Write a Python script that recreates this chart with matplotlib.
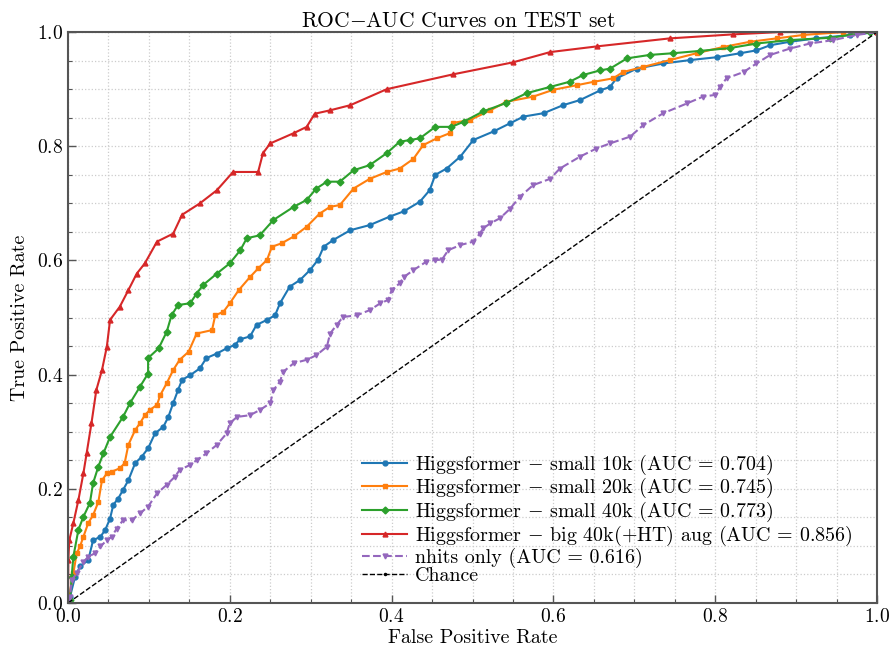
import matplotlib
matplotlib.use("Agg")
import matplotlib.pyplot as plt

plt.rcParams.update({
    "font.family": "serif",
    "font.serif": ["cmr10", "DejaVu Serif"],
    "mathtext.fontset": "cm",
    "axes.formatter.use_mathtext": True,
    "axes.unicode_minus": False,
})

# ---- data ----
fpr_10k = [0, 0.0025, 0.0087, 0.0148, 0.025, 0.031, 0.040, 0.046, 0.052, 0.056, 0.062, 0.068, 0.0746, 0.083,
           0.091, 0.099, 0.1075, 0.118, 0.124, 0.130, 0.136, 0.141, 0.151, 0.163, 0.171, 0.184, 0.196, 0.206,
           0.213, 0.225, 0.233, 0.246, 0.256, 0.262, 0.274, 0.287, 0.299, 0.309, 0.316, 0.328, 0.349, 0.373,
           0.398, 0.415, 0.435, 0.447, 0.454, 0.468, 0.485, 0.501, 0.526, 0.546, 0.563, 0.588, 0.612, 0.633,
           0.658, 0.670, 0.678, 0.703, 0.736, 0.769, 0.802, 0.831, 0.851, 0.868, 0.892, 0.925, 0.967, 1.0]
tpr_10k = [0, 0.011, 0.046, 0.064, 0.075, 0.110, 0.116, 0.128, 0.148, 0.172, 0.183, 0.198, 0.215, 0.245,
           0.256, 0.271, 0.297, 0.309, 0.326, 0.350, 0.373, 0.391, 0.399, 0.411, 0.429, 0.437, 0.446, 0.452,
           0.462, 0.467, 0.487, 0.496, 0.504, 0.525, 0.554, 0.566, 0.583, 0.601, 0.624, 0.636, 0.653, 0.662,
           0.677, 0.686, 0.703, 0.723, 0.750, 0.761, 0.782, 0.811, 0.826, 0.840, 0.852, 0.858, 0.872, 0.881,
           0.898, 0.904, 0.919, 0.936, 0.945, 0.951, 0.956, 0.963, 0.968, 0.977, 0.983, 0.989, 0.995, 1.0]

fpr_20k = [0, 0.0066, 0.0107, 0.0148, 0.019, 0.025, 0.031, 0.0375, 0.042, 0.048, 0.054, 0.064, 0.070, 0.0746,
           0.083, 0.089, 0.095, 0.101, 0.110, 0.114, 0.122, 0.130, 0.138, 0.149, 0.159, 0.178, 0.182, 0.192,
           0.200, 0.211, 0.225, 0.235, 0.246, 0.252, 0.264, 0.279, 0.295, 0.311, 0.324, 0.336, 0.353, 0.373,
           0.394, 0.410, 0.427, 0.439, 0.456, 0.472, 0.476, 0.497, 0.522, 0.542, 0.575, 0.600, 0.629, 0.650,
           0.674, 0.686, 0.711, 0.744, 0.777, 0.810, 0.843, 0.876, 0.909, 0.958, 1.0]
tpr_20k = [0, 0.052, 0.087, 0.099, 0.116, 0.140, 0.154, 0.177, 0.215, 0.227, 0.230, 0.236, 0.245, 0.277,
           0.303, 0.315, 0.329, 0.338, 0.347, 0.364, 0.385, 0.408, 0.426, 0.440, 0.472, 0.478, 0.504, 0.510,
           0.525, 0.548, 0.571, 0.586, 0.601, 0.624, 0.630, 0.642, 0.659, 0.682, 0.694, 0.697, 0.726, 0.743,
           0.755, 0.761, 0.778, 0.802, 0.814, 0.823, 0.841, 0.846, 0.863, 0.878, 0.887, 0.899, 0.907, 0.913,
           0.919, 0.930, 0.939, 0.951, 0.963, 0.974, 0.983, 0.989, 0.995, 1.0, 1.0]

fpr_40k = [0, 0.0025, 0.0045, 0.0066, 0.0128, 0.019, 0.027, 0.031, 0.0375, 0.0437, 0.052, 0.068, 0.0766,
           0.089, 0.099, 0.099, 0.112, 0.122, 0.128, 0.136, 0.151, 0.159, 0.167, 0.184, 0.200, 0.213, 0.221,
           0.237, 0.254, 0.279, 0.295, 0.307, 0.320, 0.336, 0.353, 0.373, 0.394, 0.410, 0.423, 0.435, 0.454,
           0.474, 0.489, 0.513, 0.542, 0.567, 0.596, 0.620, 0.637, 0.658, 0.670, 0.691, 0.719, 0.748, 0.781,
           0.818, 0.851, 0.892, 0.942, 0.991, 1.0]
tpr_40k = [0, 0.005, 0.046, 0.081, 0.128, 0.151, 0.175, 0.210, 0.239, 0.262, 0.291, 0.326, 0.350,
           0.379, 0.402, 0.429, 0.446, 0.475, 0.504, 0.522, 0.525, 0.542, 0.557, 0.577, 0.595, 0.618, 0.639,
           0.644, 0.671, 0.694, 0.706, 0.726, 0.738, 0.738, 0.758, 0.767, 0.788, 0.808, 0.811, 0.814, 0.834,
           0.834, 0.843, 0.861, 0.876, 0.893, 0.904, 0.913, 0.925, 0.933, 0.936, 0.954, 0.960, 0.963, 0.967,
           0.972, 0.980, 0.986, 0.990, 1.0, 1.0]

fpr_big = [0, 0.0004, 0.0016, 0.0066, 0.0128, 0.019, 0.023, 0.029, 0.035, 0.042, 0.048, 0.052, 0.064,
           0.0746, 0.085, 0.095, 0.110, 0.130, 0.141, 0.163, 0.184, 0.204, 0.235, 0.241, 0.250, 0.279, 0.295,
           0.305, 0.324, 0.349, 0.394, 0.476, 0.550, 0.596, 0.654, 0.744, 0.822, 0.880, 1.0]
tpr_big = [0, 0.075, 0.110, 0.140, 0.180, 0.227, 0.262, 0.315, 0.373, 0.408, 0.449, 0.496, 0.519,
           0.548, 0.577, 0.595, 0.633, 0.647, 0.680, 0.700, 0.723, 0.755, 0.755, 0.788, 0.805, 0.823, 0.834,
           0.857, 0.863, 0.872, 0.900, 0.926, 0.947, 0.965, 0.975, 0.989, 0.996, 1.0, 1.0]

fpr_nhits = [0, 0.0025, 0.0045, 0.0107, 0.019, 0.025, 0.033, 0.040, 0.048, 0.054, 0.060, 0.068, 0.0787,
             0.089, 0.099, 0.110, 0.122, 0.132, 0.138, 0.151, 0.159, 0.171, 0.184, 0.196, 0.200, 0.209, 0.225,
             0.237, 0.250, 0.254, 0.262, 0.266, 0.279, 0.295, 0.307, 0.320, 0.324, 0.332, 0.340, 0.357, 0.373,
             0.386, 0.396, 0.400, 0.410, 0.415, 0.427, 0.443, 0.454, 0.462, 0.470, 0.485, 0.501, 0.509, 0.513,
             0.522, 0.534, 0.546, 0.559, 0.575, 0.596, 0.608, 0.633, 0.653, 0.670, 0.695, 0.711, 0.736, 0.765,
             0.785, 0.800, 0.806, 0.814, 0.835, 0.851, 0.868, 0.892, 0.917, 0.946, 0.975, 1.0]
tpr_nhits = [0, 0.011, 0.040, 0.052, 0.072, 0.081, 0.087, 0.099, 0.110, 0.116, 0.130, 0.145, 0.145,
             0.157, 0.169, 0.192, 0.207, 0.221, 0.233, 0.242, 0.250, 0.262, 0.277, 0.297, 0.315, 0.326, 0.329,
             0.338, 0.350, 0.373, 0.388, 0.405, 0.420, 0.426, 0.434, 0.449, 0.472, 0.487, 0.501, 0.504, 0.513,
             0.525, 0.531, 0.548, 0.560, 0.571, 0.583, 0.598, 0.601, 0.601, 0.618, 0.627, 0.633, 0.647, 0.656,
             0.665, 0.674, 0.690, 0.712, 0.732, 0.743, 0.761, 0.782, 0.796, 0.805, 0.817, 0.837, 0.858, 0.875,
             0.887, 0.890, 0.904, 0.919, 0.930, 0.945, 0.960, 0.971, 0.980, 0.986, 0.995, 1.0]

chance = [0, 1]

labels = [
    r"Higgsformer $-$ small 10k (AUC = 0.704)",
    r"Higgsformer $-$ small 20k (AUC = 0.745)",
    r"Higgsformer $-$ small 40k (AUC = 0.773)",
    r"Higgsformer $-$ big 40k(+HT) aug (AUC = 0.856)",
    r"nhits only (AUC = 0.616)",
    "Chance",
]

fig = plt.figure(figsize=(8.89, 6.51), dpi=100)
ax = fig.add_axes([0.0765, 0.0737, 0.91, 0.877])

ax.plot(fpr_10k, tpr_10k, "-", marker="o", ms=3.5, lw=1.5, color="#1f77b4", label=labels[0])
ax.plot(fpr_20k, tpr_20k, "-", marker="s", ms=3.5, lw=1.5, color="#ff7f0e", label=labels[1])
ax.plot(fpr_40k, tpr_40k, "-", marker="D", ms=3.5, lw=1.5, color="#2ca02c", label=labels[2])
ax.plot(fpr_big, tpr_big, "-", marker="^", ms=3.5, lw=1.5, color="#d62728", label=labels[3])
ax.plot(fpr_nhits, tpr_nhits, "--", marker="v", ms=3.5, lw=1.5, color="#9467bd", label=labels[4])
ax.plot(chance, chance, "--", marker=".", ms=3, lw=1.0, color="black", label=labels[5])

ax.set_xlim(0, 1)
ax.set_ylim(0, 1)
ax.set_xticks([0, 0.2, 0.4, 0.6, 0.8, 1.0])
ax.set_yticks([0, 0.2, 0.4, 0.6, 0.8, 1.0])
ax.set_xticks([0.05 * i for i in range(21)], minor=True)
ax.set_yticks([0.05 * i for i in range(21)], minor=True)
ax.tick_params(which="both", direction="in", labelsize=14, colors="#555555", labelcolor="black")
ax.tick_params(which="major", length=6, width=1)
ax.tick_params(which="minor", length=3, width=0.8)
ax.grid(True, which="both", linestyle=":", color="#cccccc", linewidth=0.9)
for s in ax.spines.values():
    s.set_color("#555555")
    s.set_linewidth(1.5)

ax.set_xlabel("False Positive Rate", fontsize=14.4, labelpad=2)
ax.set_ylabel("True Positive Rate", fontsize=14.4, labelpad=6)
ax.set_title(r"ROC$-$AUC Curves on TEST set", fontsize=15.5, pad=4, x=0.482)

ax.legend(loc="lower right", bbox_to_anchor=(0.985, 0.01), frameon=False, fontsize=14.4,
          handlelength=2.25, labelspacing=-0.02, handletextpad=0.4, borderaxespad=0.2)

fig.savefig("out.png", dpi=100)
